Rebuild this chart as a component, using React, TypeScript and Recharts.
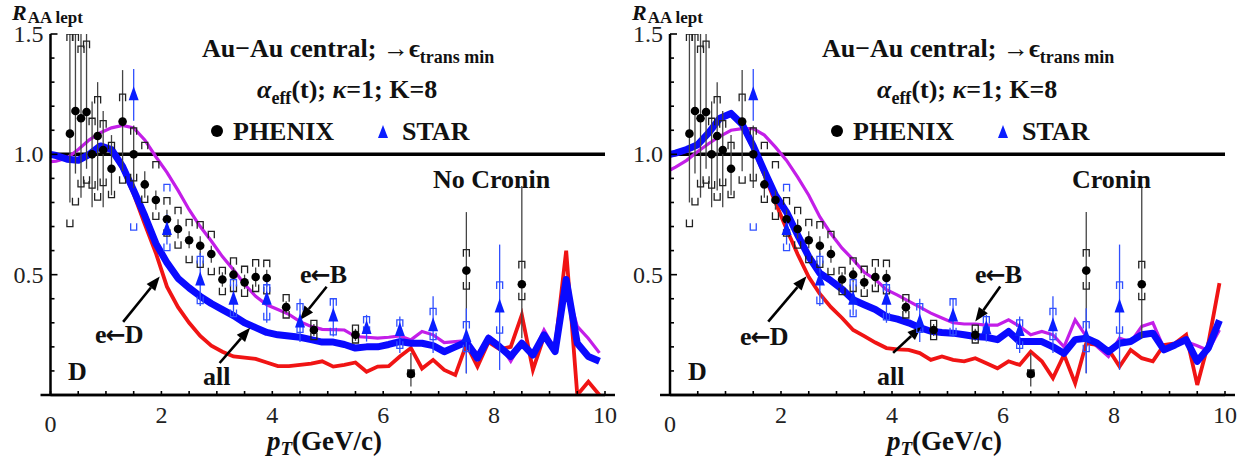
import React from "react";
import { ComposedChart, Line, Scatter, ErrorBar, XAxis, YAxis, ReferenceLine } from "recharts";

const FONT = '"Liberation Serif", "Times New Roman", serif';

// ── Data ──────────────────────────────────────────────────────────────────────

// pT grid of the model curves (GeV/c)
const ptGrid = [
  0, 0.1, 0.3, 0.5, 0.7, 0.9, 1.1, 1.3, 1.5, 1.7, 1.9,
  2.1, 2.3, 2.5, 2.7, 2.9, 3.1, 3.3, 3.5, 3.7, 3.9,
  4.1, 4.3, 4.5, 4.7, 4.9, 5.1, 5.3, 5.5, 5.7, 5.9,
  6.1, 6.3, 6.5, 6.7, 6.9, 7.1, 7.3, 7.5, 7.7, 7.9,
  8.1, 8.3, 8.5, 8.7, 8.9, 9.1, 9.3, 9.5, 9.7, 9.9,
];

// left panel: No Cronin
const noCroninAll = [
  1.0, 0.995, 0.98, 0.975, 1.0, 1.035, 1.02, 0.95, 0.85, 0.745, 0.63,
  0.55, 0.485, 0.445, 0.41, 0.38, 0.355, 0.33, 0.3, 0.28, 0.26,
  0.25, 0.245, 0.24, 0.23, 0.22, 0.22, 0.21, 0.195, 0.2, 0.2,
  0.21, 0.222, 0.215, 0.215, 0.205, 0.18, 0.2, 0.22, 0.153, 0.236,
  0.2, 0.16, 0.215, 0.166, 0.25, 0.18, 0.48, 0.215, 0.16, 0.14,
];
const noCroninD = [
  1.0, 0.995, 0.98, 0.975, 1.0, 1.03, 1.015, 0.94, 0.835, 0.71, 0.59,
  0.45, 0.365, 0.3, 0.245, 0.205, 0.18, 0.16, 0.155, 0.15, 0.135,
  0.12, 0.12, 0.125, 0.13, 0.14, 0.118, 0.125, 0.135, 0.097, 0.118,
  0.12, 0.16, 0.195, 0.11, 0.146, 0.104, 0.083, 0.21, 0.118, 0.22,
  0.19, 0.2, 0.333, 0.104, 0.243, 0.2, 0.6, 0.0, 0.055, 0.0,
];
const noCroninB = [
  0.97, 0.972, 0.985, 1.02, 1.06, 1.09, 1.11, 1.12, 1.11, 1.06, 0.99,
  0.925, 0.85, 0.77, 0.7, 0.64, 0.575, 0.52, 0.46, 0.41, 0.375,
  0.355, 0.335, 0.305, 0.285, 0.273, 0.272, 0.27, 0.243, 0.24, 0.236,
  0.24, 0.246, 0.229, 0.264, 0.25, 0.218, 0.222, 0.226, 0.17, 0.243,
  0.21, 0.14, 0.22, 0.17, 0.27, 0.19, 0.45, 0.285, 0.235, 0.175,
];

// right panel: Cronin
const croninAll = [
  1.0, 1.005, 1.02, 1.04, 1.09, 1.15, 1.17, 1.125, 1.035, 0.93, 0.83,
  0.76, 0.665, 0.575, 0.506, 0.475, 0.44, 0.396, 0.375, 0.355, 0.326,
  0.315, 0.3, 0.28, 0.265, 0.26, 0.257, 0.25, 0.243, 0.24, 0.23,
  0.264, 0.222, 0.222, 0.222, 0.2, 0.173, 0.23, 0.236, 0.215, 0.18,
  0.215, 0.222, 0.25, 0.257, 0.1875, 0.208, 0.23, 0.14, 0.195, 0.31,
];
const croninD = [
  0.995, 1.0, 1.015, 1.035, 1.085, 1.145, 1.165, 1.12, 1.025, 0.915, 0.8,
  0.69, 0.585, 0.49, 0.42, 0.365, 0.32, 0.27, 0.245, 0.218, 0.195,
  0.19, 0.1875, 0.174, 0.146, 0.16, 0.146, 0.14, 0.153, 0.132, 0.111,
  0.14, 0.125, 0.18, 0.14, 0.07, 0.167, 0.049, 0.215, 0.208, 0.19,
  0.118, 0.1875, 0.153, 0.14, 0.208, 0.215, 0.25, 0.042, 0.215, 0.465,
];
const croninB = [
  0.935, 0.947, 0.975, 1.012, 1.045, 1.075, 1.1, 1.107, 1.107, 1.08, 1.03,
  0.975, 0.905, 0.83, 0.74, 0.67, 0.61, 0.5625, 0.51, 0.48, 0.4375,
  0.415, 0.39, 0.365, 0.34, 0.32, 0.3, 0.295, 0.295, 0.29, 0.29,
  0.3125, 0.285, 0.25, 0.264, 0.25, 0.2, 0.3125, 0.243, 0.2, 0.16,
  0.236, 0.22, 0.285, 0.3, 0.194, 0.208, 0.222, 0.205, 0.185, 0.27,
];

// PHENIX non-photonic electrons
const phenixPt = [0.35, 0.45, 0.55, 0.65, 0.75, 0.85, 0.95, 1.1, 1.3, 1.5, 1.7, 1.9, 2.1, 2.3, 2.5, 2.7, 2.9, 3.1, 3.3, 3.5, 3.7, 3.9, 4.25, 4.75, 5.5, 6.5, 7.5, 8.5];
const phenixR = [1.086, 1.18, 1.15, 1.176, 1.0, 1.076, 1.018, 0.94, 1.136, 1.0, 0.875, 0.81, 0.73, 0.69, 0.643, 0.62, 0.586, 0.48, 0.5, 0.468, 0.49, 0.486, 0.365, 0.27, 0.25, 0.0875, 0.517, 0.46];
const phenixStatLo = [0.8, 0.92, 0.82, 0.94, 0.78, 0.85, 0.78, 0.83, 0.93, 0.86, 0.82, 0.77, 0.69, 0.65, 0.61, 0.58, 0.55, 0.45, 0.47, 0.44, 0.45, 0.45, 0.34, 0.245, 0.225, 0.035, 0.09, 0.236];
const phenixStatHi = [1.5, 1.5, 1.5, 1.5, 1.22, 1.3, 1.18, 1.08, 1.35, 1.12, 0.93, 0.85, 0.77, 0.73, 0.68, 0.66, 0.62, 0.51, 0.53, 0.5, 0.53, 0.52, 0.39, 0.295, 0.275, 0.174, 0.76, 0.868];
const phenixSysLo = [0.7, 0.79, 0.865, 0.88, 0.86, 0.81, 0.87, 0.82, 0.88, 0.89, 0.8, 0.73, 0.66, 0.61, 0.55, 0.53, 0.5, 0.417, 0.43, 0.41, 0.43, 0.42, 0.32, 0.23, 0.216, 0.076, 0.44, 0.396];
const phenixSysHi = [1.5, 1.5, 1.45, 1.47, 1.15, 1.24, 1.14, 1.05, 1.25, 1.11, 1.05, 0.97, 0.82, 0.78, 0.73, 0.72, 0.68, 0.53, 0.57, 0.535, 0.5625, 0.56, 0.417, 0.31, 0.29, 0.104, 0.604, 0.555];

// STAR non-photonic electrons
const starPt = [1.5, 2.1, 2.7, 3.3, 3.9, 4.5, 5.1, 5.7, 6.3, 6.9, 7.5, 8.1];
const starR = [1.25, 0.69, 0.48, 0.4, 0.4, 0.305, 0.33, 0.278, 0.27, 0.29, 0.245, 0.368];
const starStatLo = [1.14, 0.625, 0.37, 0.33, 0.3, 0.22, 0.243, 0.222, 0.174, 0.174, 0.09, 0.104];
const starStatHi = [1.355, 0.75, 0.59, 0.47, 0.47, 0.4, 0.4, 0.333, 0.326, 0.41, 0.36, 0.625];
const starSysLo = [0.685, 0.6, 0.38, 0.326, 0.3125, 0.26, 0.25, 0.257, 0.194, 0.23, 0.18, 0.257];
const starSysHi = [1.7, 0.875, 0.576, 0.48, 0.458, 0.38, 0.4, 0.326, 0.3125, 0.36, 0.305, 0.47];

const xTicks = [0, 0.5, 1, 1.5, 2, 2.5, 3, 3.5, 4, 4.5, 5, 5.5, 6, 6.5, 7, 7.5, 8, 8.5, 9, 9.5, 10];
const yTicks = [0, 0.1, 0.2, 0.3, 0.4, 0.5, 0.6, 0.7, 0.8, 0.9, 1.0, 1.1, 1.2, 1.3, 1.4, 1.5];

// ── Helpers ───────────────────────────────────────────────────────────────────

const curve = (ys: number[]) => ptGrid.map((x, i) => ({ x, y: ys[i] }));
const points = (pt: number[], r: number[], lo: number[], hi: number[]) =>
  pt.map((x, i) => ({ x, y: r[i], err: [r[i] - lo[i], hi[i] - r[i]] }));
const marks = (pt: number[], v: number[]) => pt.map((x, i) => ({ x, y: v[i] }));

const phenixData = points(phenixPt, phenixR, phenixStatLo, phenixStatHi);
const starData = points(starPt, starR, starStatLo, starStatHi);

const capTop = (color: string) => (p: any) => (
  p.cy < 30 ? <g /> :
  <path d={`M${p.cx - 3},${p.cy + 7}V${p.cy}H${p.cx + 3}V${p.cy + 7}`} fill="none" stroke={color} strokeWidth={1.3} />
);
const capBottom = (color: string) => (p: any) => (
  <path d={`M${p.cx - 3},${p.cy - 7}V${p.cy}H${p.cx + 3}V${p.cy - 7}`} fill="none" stroke={color} strokeWidth={1.3} />
);
const dotShape = (p: any) => <circle cx={p.cx} cy={p.cy} r={4.3} fill="#000" />;
const triShape = (p: any) => (
  <polygon points={`${p.cx},${p.cy - 8} ${p.cx - 5},${p.cy + 6} ${p.cx + 5},${p.cy + 6}`} fill="#0a1eff" />
);

function ArrowShape(p: any) {
  const { x1, y1, x2, y2 } = p;
  const a = Math.atan2(y2 - y1, x2 - x1);
  const L = 14, W = 5.5;
  const bx = x2 - L * Math.cos(a), by = y2 - L * Math.sin(a);
  const nx = -Math.sin(a) * W, ny = Math.cos(a) * W;
  return (
    <g>
      <line x1={x1} y1={y1} x2={bx} y2={by} stroke="#000" strokeWidth={2.6} />
      <polygon points={`${x2},${y2} ${bx + nx},${by + ny} ${bx - nx},${by - ny}`} fill="#000" />
    </g>
  );
}

function XTick(p: any) {
  const v = p.payload.value;
  const lab = Math.abs(v % 2) < 1e-6;
  return (
    <g>
      <line x1={p.x} x2={p.x} y1={p.y} y2={p.y - 4} stroke="#000" strokeWidth={1.6} />
      {lab && (
        <text x={p.x} y={v === 0 ? p.y + 37 : p.y + 28} textAnchor="middle" fontSize={24} fontFamily={FONT} fill="#222">
          {v}
        </text>
      )}
    </g>
  );
}

function YTick(p: any) {
  const v = p.payload.value;
  const major = Math.abs(v * 2 - Math.round(v * 2)) < 1e-6;
  if (v === 0) return <g />;
  return (
    <g>
      <line x1={p.x} x2={p.x + (major ? 7 : 4)} y1={p.y} y2={p.y} stroke="#000" strokeWidth={1.6} />
      {major && (
        <text x={p.x - 7} y={p.y + 8} textAnchor="end" fontSize={24} fontFamily={FONT} fill="#222">
          {v.toFixed(1)}
        </text>
      )}
    </g>
  );
}

type Seg = [{ x: number; y: number }, { x: number; y: number }];

function Panel({ all, d, b, arrows, axisW }: { all: number[]; d: number[]; b: number[]; arrows: Seg[]; axisW: number }) {
  return (
    <ComposedChart width={625} height={465} margin={{ top: 34, right: 20, bottom: 0, left: 0 }}>
      <XAxis type="number" dataKey="x" domain={[0, 10]} ticks={xTicks} interval={0} height={70}
        tickSize={0} tickMargin={0} tick={<XTick />} tickLine={false}
        axisLine={{ stroke: "#000", strokeWidth: 2.5 }} />
      <YAxis type="number" dataKey="y" domain={[0, 1.5]} allowDataOverflow ticks={yTicks} interval={0} width={axisW}
        tickSize={0} tickMargin={0} tick={<YTick />} tickLine={false}
        axisLine={{ stroke: "#000", strokeWidth: 2.5 }} />
      <ReferenceLine segment={[{ x: -0.18, y: 0 }, { x: 10.18, y: 0 }]} ifOverflow="visible" stroke="#000" strokeWidth={2.5} />
      <ReferenceLine y={1} stroke="#000" strokeWidth={3.5} />
      <Line data={curve(b)} dataKey="y" type="linear" stroke="#c31ee8" strokeWidth={3.2} dot={false} isAnimationActive={false} />
      <Line data={curve(d)} dataKey="y" type="linear" stroke="#f01414" strokeWidth={3.8} dot={false} isAnimationActive={false} />
      <Line data={curve(all)} dataKey="y" type="linear" stroke="#0a0aff" strokeWidth={7} dot={false} strokeLinejoin="round" isAnimationActive={false} />
      <Scatter data={marks(phenixPt, phenixSysHi)} dataKey="y" shape={capTop("#222")} isAnimationActive={false} />
      <Scatter data={marks(phenixPt, phenixSysLo)} dataKey="y" shape={capBottom("#222")} isAnimationActive={false} />
      <Scatter data={marks(starPt, starSysHi)} dataKey="y" shape={capTop("#3050ff")} isAnimationActive={false} />
      <Scatter data={marks(starPt, starSysLo)} dataKey="y" shape={capBottom("#3050ff")} isAnimationActive={false} />
      <Scatter data={phenixData} dataKey="y" shape={dotShape} isAnimationActive={false}>
        <ErrorBar dataKey="err" direction="y" width={0} stroke="#444" strokeWidth={1.3} isAnimationActive={false} />
      </Scatter>
      <Scatter data={starData} dataKey="y" shape={triShape} isAnimationActive={false}>
        <ErrorBar dataKey="err" direction="y" width={0} stroke="#3050ff" strokeWidth={1.3} isAnimationActive={false} />
      </Scatter>
      {arrows.map((s, i) => (
        <ReferenceLine key={i} segment={s} ifOverflow="visible" shape={ArrowShape} />
      ))}
    </ComposedChart>
  );
}

function Arrowed({ x, y, right }: { x: number; y: number; right: string }) {
  const bold = { fontFamily: FONT, fontWeight: 700, fill: "#111" } as const;
  return (
    <text x={x} y={y} fontSize={26} {...bold}>
      e<tspan fontFamily='"DejaVu Sans", sans-serif' fontSize={24} dx={-1}>←</tspan><tspan dx={-1}>{right}</tspan>
    </text>
  );
}

function PanelText({ dx, cronin, eD, all, eB }: { dx: number; cronin: [string, number]; eD: number[]; all: number[]; eB: number[] }) {
  const bold = { fontFamily: FONT, fontWeight: 700, fill: "#111" } as const;
  return (
    <g>
      <text x={dx + 12} y={20} fontSize={22} {...bold}>
        <tspan fontStyle="italic">R</tspan>
        <tspan fontSize={17} dy={3} dx={1}>AA lept</tspan>
      </text>
      <text x={dx + 202} y={57} fontSize={26} {...bold}>
        Au−Au central; →ϵ<tspan fontSize={18} dy={6}>trans min</tspan>
      </text>
      <text x={dx + 257} y={98} fontSize={26} {...bold}>
        <tspan fontStyle="italic">α</tspan>
        <tspan fontSize={18} dy={6}>eff</tspan>
        <tspan dy={-6}>(t); </tspan>
        <tspan fontStyle="italic">κ</tspan>=1; K=8
      </text>
      <circle cx={dx + 217} cy={131} r={6} fill="#000" />
      <text x={dx + 233} y={140} fontSize={26} {...bold}>PHENIX</text>
      <polygon points={`${dx + 383},${125} ${dx + 378},${138} ${dx + 388},${138}`} fill="#0a1eff" />
      <text x={dx + 402} y={140} fontSize={26} {...bold}>STAR</text>
      <text x={dx + cronin[1]} y={188} fontSize={26} {...bold}>{cronin[0]}</text>
      <Arrowed x={dx + eD[0]} y={eD[1]} right="D" />
      <text x={dx + 68} y={380} fontSize={26} {...bold}>D</text>
      <text x={dx + all[0]} y={all[1]} fontSize={26} {...bold}>all</text>
      <Arrowed x={dx + eB[0]} y={eB[1]} right="B" />
      <text x={dx + 267} y={450} fontSize={27} {...bold}>
        <tspan fontStyle="italic">p</tspan>
        <tspan fontStyle="italic" fontSize={19} dy={5}>T</tspan>
        <tspan dy={-5}>(GeV/c)</tspan>
      </text>
    </g>
  );
}

const leftArrows: Seg[] = [
  [{ x: 1.31, y: 0.304 }, { x: 1.97, y: 0.492 }],
  [{ x: 3.05, y: 0.133 }, { x: 3.6, y: 0.279 }],
  [{ x: 4.98, y: 0.45 }, { x: 4.5, y: 0.312 }],
];
const rightArrows: Seg[] = [
  [{ x: 1.77, y: 0.305 }, { x: 2.46, y: 0.493 }],
  [{ x: 4.02, y: 0.175 }, { x: 4.53, y: 0.285 }],
  [{ x: 5.95, y: 0.451 }, { x: 5.5, y: 0.305 }],
];

export default function App() {
  return (
    <div style={{ position: "absolute", left: 0, top: 0, width: 1251, height: 465, background: "#fff", overflow: "hidden" }}>
      <div style={{ position: "absolute", left: 0, top: 0 }}>
        <Panel all={noCroninAll} d={noCroninD} b={noCroninB} arrows={leftArrows} axisW={50.5} />
      </div>
      <div style={{ position: "absolute", left: 620, top: 0 }}>
        <Panel all={croninAll} d={croninD} b={croninB} arrows={rightArrows} axisW={50} />
      </div>
      <svg width={1251} height={465} style={{ position: "absolute", left: 0, top: 0, pointerEvents: "none" }}>
        <PanelText dx={0} cronin={["No Cronin", 433]} eD={[95, 343]} all={[203, 385]} eB={[300, 283]} />
        <PanelText dx={620} cronin={["Cronin", 452]} eD={[120, 345]} all={[257, 385]} eB={[355, 283]} />
      </svg>
    </div>
  );
}
